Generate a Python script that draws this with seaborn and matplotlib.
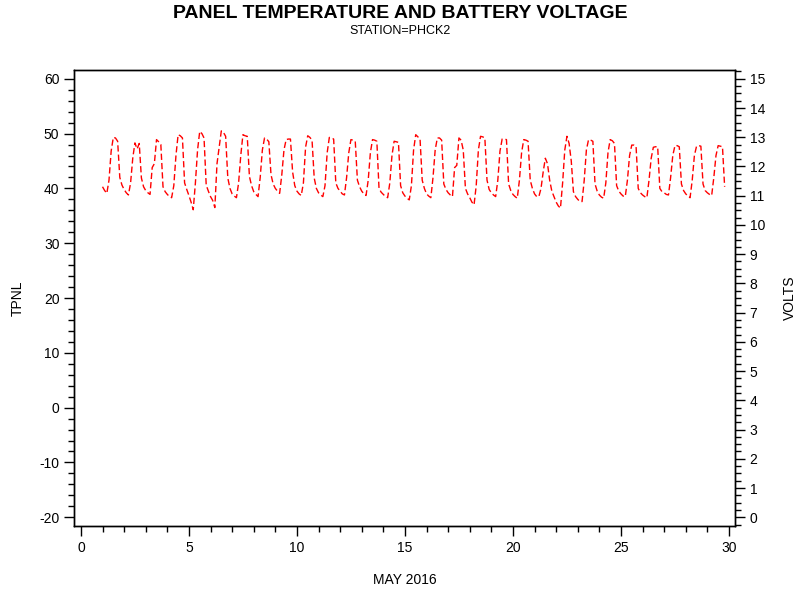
import numpy as np
import pandas as pd
import matplotlib
matplotlib.use("Agg")
import matplotlib.pyplot as plt
import seaborn as sns
from matplotlib.ticker import MultipleLocator

# Panel temperature readings, 10 readings per day (every 0.1 day) starting May 1 00:00
TPNL_WEEK1 = [
    40.3, 39.6, 39.1, 41.5, 46.8, 49.3, 49.2, 48.6, 42.0, 40.6,   # day 1
    39.8, 39.2, 38.8, 41.0, 45.5, 48.3, 47.2, 48.2, 41.9, 40.3,   # day 2
    39.6, 39.2, 38.9, 43.8, 44.5, 48.9, 48.5, 48.0, 40.3, 39.4,   # day 3
    38.9, 38.5, 38.3, 40.5, 46.0, 49.8, 49.6, 49.2, 41.0, 39.8,   # day 4
    38.7, 37.5, 36.1, 41.0, 47.0, 50.4, 50.0, 49.2, 40.6, 39.5,   # day 5
    38.5, 37.8, 36.5, 44.5, 47.5, 50.5, 50.2, 49.5, 41.9, 40.0,   # day 6
    39.0, 38.6, 38.3, 41.0, 46.0, 49.8, 49.6, 49.5, 42.2, 40.5,   # day 7
]
TPNL_WEEK2 = [
    39.4, 38.9, 38.5, 42.0, 47.0, 49.2, 49.0, 48.5, 42.5, 40.8,   # day 8
    40.0, 39.5, 39.1, 42.5, 47.0, 48.9, 49.0, 49.0, 43.0, 40.5,   # day 9
    39.5, 39.0, 38.7, 41.0, 47.5, 49.6, 49.3, 48.8, 41.9, 40.0,   # day 10
    39.2, 38.8, 38.5, 40.5, 46.5, 49.3, 49.2, 49.0, 41.0, 40.0,   # day 11
    39.5, 39.0, 38.8, 42.0, 46.5, 48.9, 48.8, 48.6, 41.5, 40.3,   # day 12
    39.5, 39.0, 38.7, 41.5, 46.5, 48.9, 48.8, 48.6, 40.0, 39.3,   # day 13
    38.9, 38.5, 38.3, 41.0, 46.0, 48.6, 48.5, 48.4, 40.5, 39.2,   # day 14
]
TPNL_WEEK3 = [
    38.6, 38.2, 37.9, 40.5, 47.0, 49.8, 49.4, 49.0, 41.5, 40.0,   # day 15
    39.0, 38.6, 38.3, 42.0, 47.0, 49.2, 49.2, 48.8, 40.8, 39.8,   # day 16
    39.2, 38.8, 38.5, 43.8, 44.2, 49.2, 48.8, 47.0, 40.0, 39.0,   # day 17
    38.3, 37.5, 37.0, 40.5, 47.0, 49.5, 49.4, 49.2, 41.5, 39.8,   # day 18
    39.2, 38.8, 38.5, 41.5, 46.8, 49.0, 49.0, 48.9, 40.8, 39.6,   # day 19
    38.9, 38.5, 38.2, 41.5, 46.5, 48.9, 48.8, 48.6, 41.5, 40.0,   # day 20
    39.0, 38.5, 38.5, 40.0, 43.0, 45.5, 44.5, 41.5, 39.5, 38.5,   # day 21
]
TPNL_WEEK4 = [
    37.5, 36.8, 36.4, 41.0, 47.0, 49.5, 48.2, 45.0, 39.4, 38.5,   # day 22
    38.0, 37.6, 37.6, 41.5, 47.0, 48.9, 48.8, 48.6, 40.8, 39.5,   # day 23
    38.8, 38.4, 38.2, 41.0, 46.5, 48.9, 48.7, 48.2, 40.5, 39.5,   # day 24
    39.0, 38.6, 38.5, 41.5, 46.0, 47.9, 47.9, 47.7, 40.0, 39.2,   # day 25
    38.8, 38.5, 38.3, 41.5, 45.5, 47.5, 47.6, 47.6, 40.0, 39.4,   # day 26
    39.2, 38.9, 38.8, 42.0, 46.0, 47.8, 47.8, 47.6, 40.8, 39.6,   # day 27
    39.0, 38.6, 38.3, 41.5, 46.0, 47.7, 47.8, 47.7, 40.8, 39.6,   # day 28
    39.2, 38.9, 38.7, 42.0, 46.0, 47.8, 47.7, 47.6, 40.3,         # day 29
]

FIRST_DAY = 1.0
STEP = 0.1  # days between readings

X_TICKS_MAJOR = 5
Y_LEFT_MAJOR = 10
Y_RIGHT_MAJOR = 1

tpnl = TPNL_WEEK1 + TPNL_WEEK2 + TPNL_WEEK3 + TPNL_WEEK4
df = pd.DataFrame({
    "day": FIRST_DAY + STEP * np.arange(len(tpnl)),
    "TPNL": tpnl,
})

sns.set_style("ticks")
plt.rcParams['font.family'] = ['Liberation Sans', 'DejaVu Sans']
plt.rcParams['axes.unicode_minus'] = False
plt.rcParams['text.color'] = 'black'

fig = plt.figure(figsize=(8, 6), dpi=100)
ax = fig.add_axes([74 / 800, 1 - 526 / 600, (735 - 74) / 800, (526 - 70) / 600])

sns.lineplot(data=df, x="day", y="TPNL", ax=ax, color="red", linewidth=1.0,
             linestyle=(0, (4.5, 2.2)), estimator=None, sort=False)

ax.set_xlim(-0.32, 30.28)
ax.set_ylim(-21.6, 61.6)
ax.xaxis.set_major_locator(MultipleLocator(X_TICKS_MAJOR))
ax.xaxis.set_minor_locator(MultipleLocator(1))
ax.yaxis.set_major_locator(MultipleLocator(Y_LEFT_MAJOR))
ax.yaxis.set_minor_locator(MultipleLocator(2))

ax2 = ax.twinx()
ax2.set_ylim((-21.6 + 20) * 15 / 80, (61.6 + 20) * 15 / 80)
ax2.yaxis.set_major_locator(MultipleLocator(Y_RIGHT_MAJOR))
ax2.yaxis.set_minor_locator(MultipleLocator(0.25))

for a in (ax, ax2):
    a.tick_params(which="major", direction="out", length=7, width=1, color="black",
                  labelsize=10, labelcolor="black")
    a.tick_params(which="minor", direction="out", length=4, width=1, color="black")
    for s in a.spines.values():
        s.set_visible(True)
        s.set_color("black")
        s.set_linewidth(1)

ax.set_xlabel("")
ax.set_ylabel("")
fig.text(405 / 800, 1 - 580 / 600, "MAY 2016", ha="center", va="center", fontsize=10, color="black")
fig.text(18 / 800, 1 - 298 / 600, "TPNL", ha="center", va="center", fontsize=10, rotation=90, color="black")
fig.text(790 / 800, 1 - 298 / 600, "VOLTS", ha="center", va="center", fontsize=10, rotation=90, color="black")

fig.text(0.5, 1 - 13 / 600, "PANEL TEMPERATURE AND BATTERY VOLTAGE",
         ha="center", va="center", fontsize=14, fontweight="bold", color="black")
fig.text(0.5, 1 - 31 / 600, "STATION=PHCK2", ha="center", va="center", fontsize=9, color="black")

fig.savefig("out.png", dpi=100)
